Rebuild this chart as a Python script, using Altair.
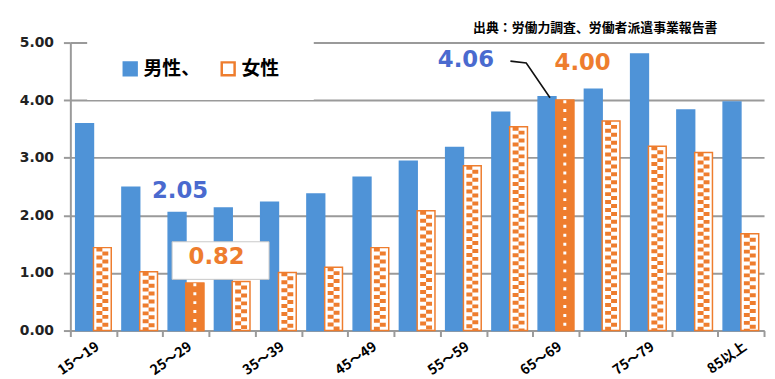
import altair as alt
import pandas as pd

# ---- data ----
categories = ["15～19", "20～24", "25～29", "30～34", "35～39", "40～44", "45～49",
              "50～54", "55～59", "60～64", "65～69", "70～74", "75～79", "80～84", "85以上"]
male = [3.59, 2.49, 2.05, 2.13, 2.23, 2.37, 2.66, 2.94, 3.18, 3.79, 4.06, 4.19, 4.80, 3.83, 3.97]
female = [1.44, 1.02, 0.82, 0.85, 1.01, 1.10, 1.44, 2.08, 2.86, 3.54, 4.00, 3.64, 3.20, 3.09, 1.68]
series = ["男性", "女性"]
legend_labels = ["男性、", "女性"]
highlight_groups = ["25～29", "65～69"]
shown_labels = ["15～19", "25～29", "35～39", "45～49", "55～59", "65～69", "75～79", "85以上"]
y_ticks = [0, 1, 2, 3, 4, 5]
source_text = "出典：労働力調査、労働者派遣事業報告書"

BLUE = "#4F93D7"
ORANGE = "#EE7D2E"
TBLUE = "#4A6ACF"
GRID = "#9A9A9A"
JP = "Noto Sans CJK JP"
NUM = "DejaVu Sans"

rows = []
for c, m, f in zip(categories, male, female):
    rows.append(dict(cat=c, series=series[0], value=m, zero=0, hl=c in highlight_groups))
    rows.append(dict(cat=c, series=series[1], value=f, zero=0, hl=c in highlight_groups))
df = pd.DataFrame(rows)

label_list = "[" + ",".join("'%s'" % s for s in shown_labels) + "]"

x_scale = alt.Scale(paddingInner=0, paddingOuter=0)
x_axis = alt.Axis(title=None, tickBand="extent", labelAngle=-35,
                  labelAlign="right", labelBaseline="top",
                  labelExpr=f"indexof({label_list}, datum.value) >= 0 ? datum.label : ''",
                  labelFont=JP, labelFontWeight="bold", labelFontSize=14,
                  labelColor="#000", labelPadding=3,
                  domainColor=GRID, domainWidth=2, tickColor=GRID,
                  tickWidth=2, tickSize=6, grid=False)
x = alt.X("cat:N", sort=categories, scale=x_scale, axis=x_axis)


def xband(pos):
    return alt.X("cat:N", sort=categories, scale=x_scale, axis=x_axis, bandPosition=pos)


# female sub-band centre within the group band: (0.3 + 1 + 0.5) / 2.6
FC = 1.8 / 2.6
STEP = 701 / 15.0

xo = alt.XOffset("series:N", sort=series,
                 scale=alt.Scale(paddingOuter=0.3, paddingInner=0))
y = alt.Y("value:Q", scale=alt.Scale(domain=[0, 5], nice=False),
          axis=alt.Axis(title=None, values=y_ticks, format=".2f",
                        labelFont=NUM, labelFontWeight="bold", labelFontSize=14,
                        labelColor="#222", labelPadding=10,
                        domainColor=GRID, domainWidth=2, tickColor=GRID,
                        tickWidth=2, tickSize=7, gridColor=GRID, gridWidth=2))

legend = alt.Legend(orient="none", legendX=51, legendY=17, direction="horizontal",
                    title=None,
                    labelExpr=f"datum.value == '{series[0]}' ? '{legend_labels[0]}' : '{legend_labels[1]}'",
                    labelFont=JP, labelFontSize=19, labelFontWeight="bold",
                    labelColor="#000", symbolType="square", symbolSize=169,
                    symbolStrokeWidth=2.5, columnPadding=16, labelOffset=4)

base = alt.Chart(df)

legend_box = alt.Chart(pd.DataFrame({"a": [0]})).mark_rect(fill="white").encode(
    x=alt.value(17), x2=alt.value(246), y=alt.value(-4), y2=alt.value(58))

bars = base.mark_bar(strokeWidth=1.5).encode(
    x=x, xOffset=xo, y=y,
    fill=alt.Fill("series:N", sort=series,
                  scale=alt.Scale(domain=series, range=[BLUE, "white"]), legend=legend),
    stroke=alt.Stroke("series:N", sort=series,
                      scale=alt.Scale(domain=series, range=[BLUE, ORANGE]), legend=legend),
)

fem = base.transform_filter(alt.datum.series == series[1])
hl_bars = fem.transform_filter(alt.datum.hl == True).mark_bar(
    fill=ORANGE, stroke=ORANGE, strokeWidth=1.5).encode(x=x, xOffset=xo, y=y)

pat1 = fem.transform_filter(alt.datum.hl == False).mark_rule(
    color=ORANGE, strokeWidth=6, strokeDash=[4, 4]).encode(
    x=xband(FC - 3.0 / STEP), y=y, y2="zero:Q")
pat2 = fem.transform_filter(alt.datum.hl == False).mark_rule(
    color=ORANGE, strokeWidth=6, strokeDash=[4, 4], strokeDashOffset=4).encode(
    x=xband(FC + 3.0 / STEP), y=y, y2="zero:Q")
dots = fem.transform_filter(alt.datum.hl == True).mark_rule(
    color="white", strokeWidth=3, strokeDash=[3, 6]).encode(
    x=xband(FC), y=y, y2="zero:Q")


def pick(cat, ser):
    return base.transform_filter((alt.datum.cat == cat) & (alt.datum.series == ser))


txt = dict(font=NUM, fontWeight="bold", fontSize=23, align="center", baseline="middle")

t205 = pick(highlight_groups[0], series[0]).mark_text(color=TBLUE, dx=3, dy=-22, **txt).encode(
    x=x, xOffset=xo, y=y, text=alt.Text("value:Q", format=".2f"))
box082 = pick(highlight_groups[0], series[1]).mark_point(
    shape="M-23,-19H75V19H-23Z", size=4, filled=True, fill="white", stroke="#c8c8c8",
    strokeWidth=1, opacity=1, yOffset=-23).encode(x=x, xOffset=xo, y=y)
t082 = pick(highlight_groups[0], series[1]).mark_text(color=ORANGE, dx=22, dy=-27, **txt).encode(
    x=x, xOffset=xo, y=y, text=alt.Text("value:Q", format=".2f"))
t406 = pick(highlight_groups[1], series[0]).mark_text(color=TBLUE, dx=-82, dy=-37, **txt).encode(
    x=x, xOffset=xo, y=y, text=alt.Text("value:Q", format=".2f"))
leader = pick(highlight_groups[1], series[0]).mark_point(
    shape="M3,1L-21,-34L-37,-36", size=4, filled=False, stroke="#111",
    strokeWidth=1.6, opacity=1).encode(x=x, xOffset=xo, y=y)
t400 = pick(highlight_groups[1], series[1]).mark_text(color=ORANGE, dx=18, dy=-37, **txt).encode(
    x=x, xOffset=xo, y=y, text=alt.Text("value:Q", format=".2f"))

src = alt.Chart(pd.DataFrame({"a": [0]})).mark_text(
    align="left", baseline="middle", font=JP, fontWeight="bold", fontSize=13, color="#000").encode(
    x=alt.value(407), y=alt.value(-15), text=alt.value(source_text))

chart = alt.layer(legend_box, bars, hl_bars, pat1, pat2, dots, t205, box082, t082,
                  leader, t406, t400, src).properties(
    width=701, height=291,
    autosize=alt.AutoSizeParams(type="none"),
    padding={"left": 63, "top": 33, "right": 3, "bottom": 47},
).configure_view(stroke=None)

chart.save("out.html", embed_options={"renderer": "svg", "actions": False})
